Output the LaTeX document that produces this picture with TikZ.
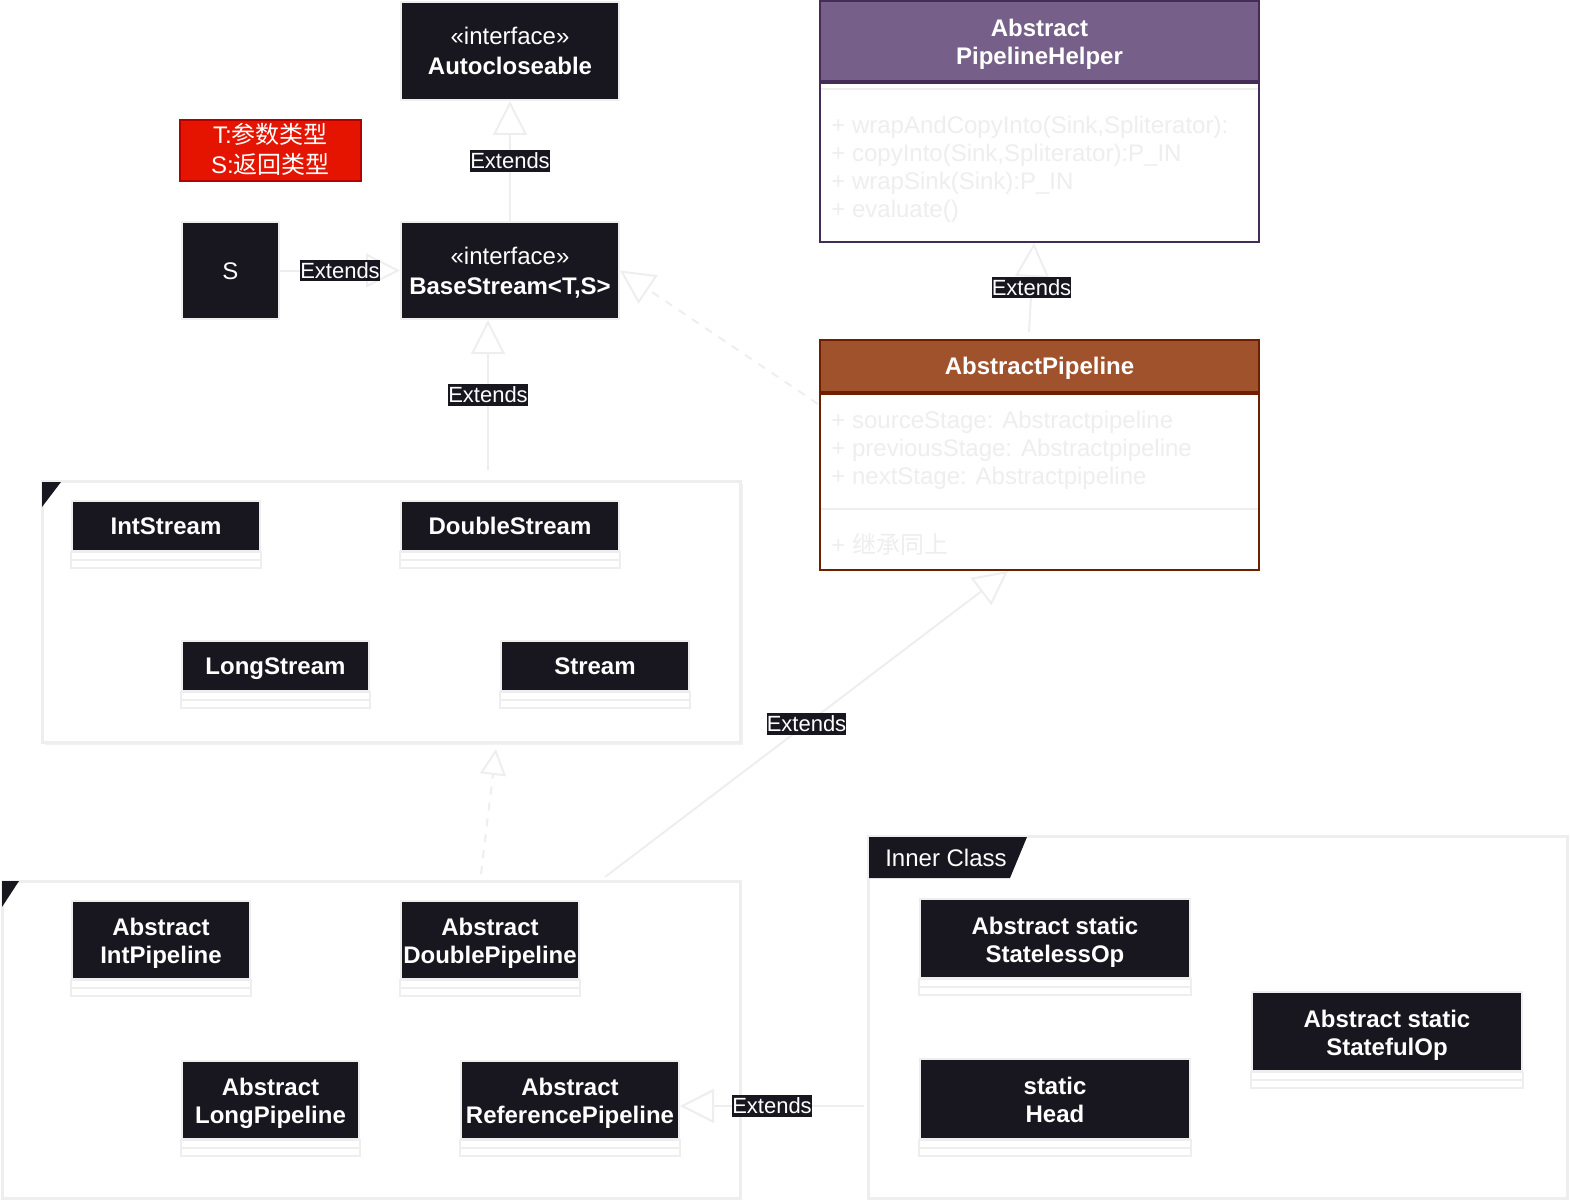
\documentclass[tikz,border=0pt]{standalone}
\usepackage{fontspec}
\setmainfont{Liberation Sans}
\newfontfamily\cjk{Noto Sans CJK SC}
\usetikzlibrary{arrows.meta, positioning, shadows}

\definecolor{clsdark}{HTML}{18161F}
\definecolor{linegray}{HTML}{EEEEEE}
\definecolor{helperfill}{HTML}{76608A}
\definecolor{helperline}{HTML}{432D57}
\definecolor{pipefill}{HTML}{A0522D}
\definecolor{pipeline}{HTML}{6D1F00}
\definecolor{notefill}{HTML}{E51400}
\definecolor{noteline}{HTML}{B20000}

\begin{document}
\begin{tikzpicture}[x=0.5pt, y=-0.5pt]

	\tikzstyle{klass} = [draw=linegray, line width=1pt, fill=clsdark, text=white, align=center, inner sep=0pt, text height=8.75pt, text depth=0pt, font=\fontsize{12}{14}\selectfont\bfseries]
	\tikzstyle{klasstwo} = [klass, text height=23.6pt]
	\tikzstyle{iface} = [klass, text height=23.7pt, font=\fontsize{12}{15}\selectfont]
	\tikzstyle{compart} = [draw=linegray, line width=1pt]
	\tikzstyle{pkg} = [draw=linegray, line width=1.5pt, fill=white, inner sep=0pt]
	\tikzstyle{arrow} = [draw=linegray, line width=1pt, -{Triangle[open, length=17pt, width=17pt]}]
	\tikzstyle{tag} = [fill=clsdark, text=white, inner xsep=0pt, inner ysep=1.3pt, font=\fontsize{11}{13}\selectfont]
	\tikzstyle{member} = [text=linegray, align=left, anchor=west, inner sep=0pt, font=\fontsize{12}{14}\selectfont]

	\useasboundingbox (0,0) rectangle (1570,1204);

	% packages
	\node[pkg, minimum width=349pt, minimum height=130.5pt, drop shadow={shadow xshift=1.5pt, shadow yshift=-1.5pt, opacity=0.1}] (pkgS) at (391,611.5) {};
	\node[pkg, minimum width=369pt, minimum height=158.5pt] (pkgP) at (371,1039.5) {};
	\node[pkg, minimum width=349.5pt, minimum height=181pt] (pkgI) at (1217.5,1017) {};
	\fill[clsdark] (42,482) -- (61,482) -- (42,507) -- cycle;
	\fill[clsdark] (2,881) -- (19,881) -- (2,907) -- cycle;
	\fill[clsdark] (869,837) -- (1027,837) -- (1010,878) -- (869,878) -- cycle;
	\node[text=white, inner sep=0pt, text height=8.75pt, text depth=0pt, font=\fontsize{12}{14}\selectfont] (innerTag) at (946,858) {Inner Class};

	% interfaces
	\node[iface, minimum width=109pt, minimum height=49pt] (auto) at (510,51) {«interface»\\\textbf{Autocloseable}};
	\node[iface, minimum width=109pt, minimum height=48.5pt] (base) at (510,270.5) {«interface»\\\textbf{BaseStream<T,S>}};
	\node[klass, font=\fontsize{12}{14}\selectfont, minimum width=48.5pt, minimum height=48.5pt] (sBox) at (230.5,270.5) {S};
	\node[draw=noteline, fill=notefill, line width=1pt, text=white, minimum width=90.5pt, minimum height=30.5pt, inner sep=0pt, align=center, text height=23.2pt, text depth=0pt, font=\fontsize{12}{15}\selectfont] (note) at (270.5,150.5) {T:{\cjk 参数类型}\\S:{\cjk 返回类型}};

	% helper and pipeline
	\node[draw=helperline, line width=1pt, fill=helperfill, text=white, minimum width=219.5pt, minimum height=40pt, inner sep=0pt, align=center, text height=23.6pt, text depth=0pt, font=\fontsize{12}{14}\selectfont\bfseries] (helperHead) at (1039.5,41) {Abstract\\PipelineHelper};
	\node[draw=helperline, line width=1pt, fill=white, minimum width=219.5pt, minimum height=79.5pt, inner sep=0pt, anchor=north] (helper) at (helperHead.south) {};
	\draw[compart] ([xshift=1pt, yshift=-3.5pt]helperHead.south west) -- ([xshift=-1pt, yshift=-3.5pt]helperHead.south east);
	\node[member] (helperOps) at (831,169) {+ wrapAndCopyInto(Sink,Spliterator):\\+ copyInto(Sink,Spliterator):P\_IN\\+ wrapSink(Sink):P\_IN\\+ evaluate()};

	\node[draw=pipeline, line width=1pt, fill=pipefill, text=white, minimum width=219.5pt, minimum height=26pt, inner sep=0pt, text height=8.75pt, text depth=0pt, font=\fontsize{12}{14}\selectfont\bfseries] (pipeHead) at (1039.5,366) {AbstractPipeline};
	\node[draw=pipeline, line width=1pt, fill=white, minimum width=219.5pt, minimum height=88pt, inner sep=0pt, anchor=north] (pipe) at (pipeHead.south) {};
	\draw[compart] ([xshift=1pt, yshift=-58pt]pipeHead.south west) -- ([xshift=-1pt, yshift=-58pt]pipeHead.south east);
	\node[member] (pipeAttr) at (831,450) {+ sourceStage: Abstractpipeline\\+ previousStage: Abstractpipeline\\+ nextStage: Abstractpipeline};
	\node[member] (pipeOps) at (831,544) {+ {\cjk 继承同上}};

	% classes
	\node[klass, minimum width=94pt, minimum height=25pt] (intS) at (166,526) {IntStream};
	\node[klass, minimum width=109pt, minimum height=25pt] (dblS) at (510,526) {DoubleStream};
	\node[klass, minimum width=93.5pt, minimum height=25pt] (lngS) at (275.5,666) {LongStream};
	\node[klass, minimum width=94pt, minimum height=25pt] (strS) at (595,666) {Stream};
	\node[klasstwo, minimum width=89pt, minimum height=39pt] (intP) at (161,940) {Abstract\\IntPipeline};
	\node[klasstwo, minimum width=89pt, minimum height=39pt] (dblP) at (490,940) {Abstract\\DoublePipeline};
	\node[klasstwo, minimum width=88.5pt, minimum height=39pt] (lngP) at (270.5,1100) {Abstract\\LongPipeline};
	\node[klasstwo, minimum width=109pt, minimum height=39pt] (refP) at (570,1100) {Abstract\\ReferencePipeline};
	\node[klasstwo, minimum width=135pt, minimum height=39.5pt] (lessOp) at (1055,938.5) {Abstract static\\StatelessOp};
	\node[klasstwo, minimum width=135pt, minimum height=39.5pt] (fulOp) at (1387,1031.5) {Abstract static\\StatefulOp};
	\node[klasstwo, minimum width=135pt, minimum height=40pt] (head) at (1055,1099) {static\\Head};
	\foreach \c in {intS,dblS,lngS,strS,intP,dblP,lngP,refP,lessOp,fulOp,head} {
		\draw[compart] (\c.south west) rectangle ([yshift=-4pt]\c.south east);
		\draw[compart] ([yshift=-4pt]\c.south west) rectangle ([yshift=-8pt]\c.south east);
	}

	% connectors
	\coordinate (pkgSTop) at (488,470);
	\coordinate (pipeLeft) at (818,404);
	\coordinate (pkgPTop) at (481,874);
	\coordinate (pkgSBot) at (496,749);
	\coordinate (pkgPCorner) at (605,877);
	\coordinate (pkgILeft) at (864,1106);

	\draw[arrow] (sBox) -- node[tag] {Extends} (base);
	\draw[arrow] (base) -- node[tag] {Extends} (auto);
	\draw[arrow] (pkgSTop) -- node[tag] {Extends} (base.south -| pkgSTop);
	\draw[arrow, dash pattern=on 4pt off 4pt] (pipeLeft) -- (base.east);
	\draw[arrow] ([xshift=-5.25pt, yshift=3.5pt]pipeHead.north) -- node[tag] {Extends} ([xshift=-2.75pt]helper.south);
	\draw[draw=linegray, line width=1pt, dash pattern=on 4pt off 4pt, -{Triangle[open, length=13pt, width=13pt]}] (pkgPTop) -- (pkgSBot);
	\draw[arrow] (pkgPCorner) -- node[tag] {Extends} ([xshift=-15.75pt]pipe.south);
	\draw[arrow] (pkgILeft) -- node[tag] {Extends} (refP.east |- pkgILeft);

\end{tikzpicture}
\end{document}
